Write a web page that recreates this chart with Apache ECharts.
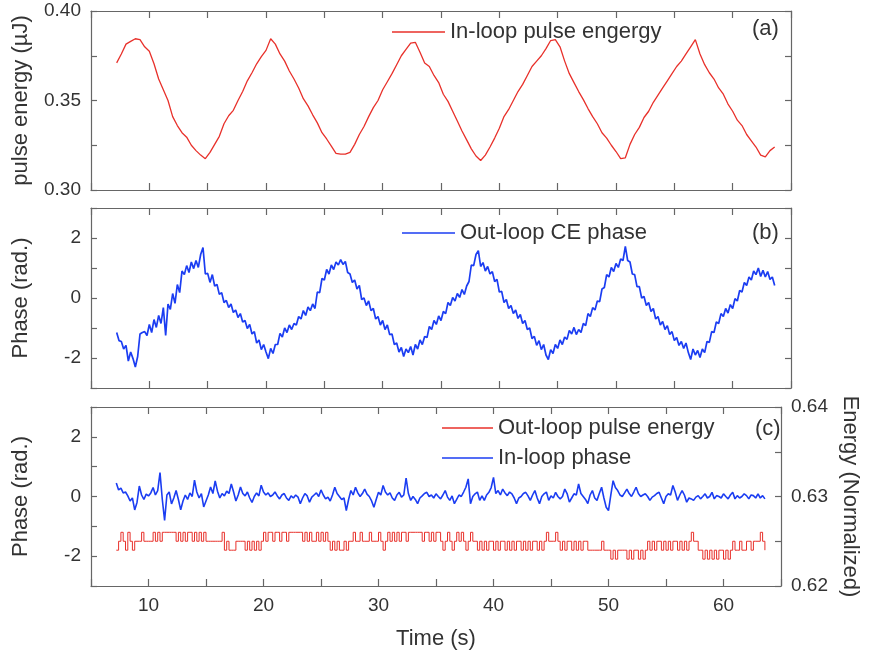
<!DOCTYPE html>
<html>
<head>
<meta charset="utf-8">
<script src="https://cdn.jsdelivr.net/npm/echarts@6/dist/echarts.min.js"></script>
<style>
html,body{margin:0;padding:0;background:#fff;}
#chart{width:869px;height:660px;}
</style>
</head>
<body>
<div id="chart"></div>
<script>
// ---- Data ----
// Panel (a): in-loop pulse energy, sampled every 0.4 s starting at 7.2 s
const startA = 7.2, stepA = 0.4;
const inLoopEnergy = [
0.3710,0.3760,0.3815,0.3830,0.3845,0.3840,0.3800,0.3775,0.3705,0.3620,0.3560,0.3500,0.3410,0.3360,0.3320,0.3295,0.3250,0.3220,0.3195,0.3175,
0.3210,0.3255,0.3300,0.3370,0.3415,0.3445,0.3500,0.3550,0.3610,0.3655,0.3705,0.3745,0.3780,0.3845,0.3815,0.3760,0.3720,0.3665,0.3620,0.3570,
0.3510,0.3470,0.3420,0.3375,0.3320,0.3285,0.3245,0.3205,0.3200,0.3200,0.3210,0.3255,0.3310,0.3355,0.3410,0.3460,0.3500,0.3560,0.3605,0.3650,
0.3700,0.3750,0.3785,0.3820,0.3825,0.3770,0.3710,0.3690,0.3640,0.3600,0.3535,0.3495,0.3440,0.3385,0.3330,0.3280,0.3230,0.3190,0.3165,0.3195,
0.3240,0.3290,0.3345,0.3410,0.3450,0.3500,0.3550,0.3590,0.3640,0.3690,0.3720,0.3750,0.3790,0.3835,0.3840,0.3800,0.3720,0.3650,0.3600,0.3550,
0.3505,0.3455,0.3410,0.3370,0.3320,0.3290,0.3250,0.3215,0.3175,0.3180,0.3255,0.3310,0.3350,0.3405,0.3440,0.3490,0.3530,0.3570,0.3610,0.3650,
0.3690,0.3720,0.3760,0.3800,0.3840,0.3760,0.3700,0.3655,0.3620,0.3570,0.3535,0.3480,0.3440,0.3390,0.3360,0.3310,0.3275,0.3240,0.3195,0.3185,
0.3220,0.3240
];

// Panels (b) and (c): sampled every 0.2 s starting at 7.2 s
const startBC = 7.2, stepBC = 0.2;
const outLoopPhase = [
-1.15,-1.42,-1.45,-1.70,-1.58,-2.10,-1.80,-2.02,-2.30,-1.95,
-1.20,-1.15,-1.12,-1.25,-0.88,-1.15,-0.72,-0.98,-0.58,-0.85,
-0.32,-1.25,-0.20,-0.38,0.15,-0.18,0.45,0.18,0.90,0.78,
1.08,0.85,1.20,0.98,1.25,1.02,1.45,1.68,0.80,0.82,
0.52,0.78,0.40,0.45,0.12,0.18,-0.15,-0.08,-0.32,-0.20,
-0.48,-0.40,-0.65,-0.52,-0.80,-0.75,-1.02,-0.88,-1.20,-1.12,
-1.50,-1.40,-1.72,-1.55,-1.80,-2.02,-1.68,-1.85,-1.55,-1.55,
-1.18,-1.30,-1.00,-1.15,-0.90,-1.05,-0.85,-0.90,-0.62,-0.70,
-0.42,-0.58,-0.30,-0.42,-0.20,-0.35,0.20,0.18,0.65,0.60,
0.95,0.80,1.10,0.95,1.20,1.10,1.28,1.12,1.22,0.85,
0.80,0.52,0.60,0.30,0.42,-0.05,0.00,-0.25,-0.10,-0.42,
-0.35,-0.70,-0.62,-0.90,-0.75,-1.05,-0.90,-1.22,-1.20,-1.55,
-1.50,-1.80,-1.65,-1.95,-1.70,-1.82,-1.62,-1.90,-1.55,-1.70,
-1.40,-1.55,-1.28,-1.32,-0.95,-1.05,-0.75,-0.88,-0.60,-0.75,
-0.45,-0.52,-0.15,-0.25,0.02,-0.10,0.15,0.02,0.28,0.12,
0.40,0.55,1.10,1.08,1.45,1.58,1.05,1.18,0.90,1.05,
0.80,0.88,0.55,0.62,0.20,0.22,-0.15,-0.05,-0.35,-0.25,
-0.52,-0.40,-0.68,-0.55,-0.85,-0.75,-1.05,-1.00,-1.35,-1.28,
-1.58,-1.42,-1.72,-1.55,-1.90,-2.05,-1.72,-1.85,-1.55,-1.68,
-1.40,-1.55,-1.30,-1.38,-1.08,-1.20,-0.98,-1.22,-1.05,-1.15,
-0.85,-0.92,-0.52,-0.62,-0.32,-0.40,-0.10,-0.12,0.30,0.35,
0.78,0.70,1.02,0.88,1.15,1.02,1.30,1.25,1.72,1.25,
1.20,0.80,0.78,0.38,0.38,0.00,0.05,-0.25,-0.15,-0.45,
-0.35,-0.70,-0.62,-0.90,-0.78,-1.05,-0.92,-1.22,-1.12,-1.42,
-1.32,-1.58,-1.45,-1.68,-1.50,-1.82,-2.05,-1.70,-1.90,-1.75,
-1.98,-1.70,-1.82,-1.45,-1.48,-1.12,-1.15,-0.80,-0.85,-0.52,
-0.62,-0.35,-0.50,-0.22,-0.35,-0.02,-0.10,0.25,0.20,0.52,
0.42,0.70,0.60,0.90,0.78,1.00,0.72,0.92,0.70,0.88,
0.62,0.70,0.42
];

const inLoopPhase = [
0.45,0.22,0.28,0.12,0.15,0.02,-0.15,-0.05,-0.45,-0.20,
0.35,0.05,-0.10,0.08,0.02,0.12,0.30,0.05,0.20,0.80,
-0.10,-0.80,0.05,0.15,-0.25,-0.05,0.20,-0.10,-0.45,-0.15,
0.05,-0.10,0.12,0.00,0.55,0.15,-0.05,0.10,-0.35,-0.15,
0.05,0.32,0.10,0.52,0.18,-0.05,0.10,0.02,0.18,0.10,
0.42,0.15,-0.15,0.05,0.32,0.10,0.02,0.15,-0.05,-0.20,
0.00,0.12,0.02,0.38,0.15,0.05,0.12,0.00,0.05,0.15,
0.02,-0.08,0.05,0.10,-0.05,-0.13,0.02,-0.05,0.05,-0.02,
-0.24,-0.05,0.10,0.02,-0.19,-0.02,0.05,0.12,0.00,0.22,
0.05,-0.08,-0.02,-0.15,0.05,0.31,0.10,0.00,-0.10,-0.05,
-0.47,-0.10,0.20,0.05,0.31,0.12,0.00,0.10,0.25,0.08,
0.00,-0.15,-0.36,-0.10,0.14,0.05,0.37,0.15,0.05,0.12,
-0.05,-0.13,0.05,0.14,-0.02,0.05,0.62,0.10,-0.13,0.00,
-0.10,-0.24,-0.05,0.02,0.10,0.14,0.00,0.05,-0.05,0.09,
0.00,-0.08,0.05,0.20,-0.02,-0.13,0.02,-0.24,-0.10,0.05,
0.00,0.15,0.31,0.59,-0.24,0.00,0.09,0.15,-0.13,0.02,
-0.13,0.05,0.14,0.30,0.64,0.10,0.20,0.05,0.25,0.12,
0.03,0.15,0.09,-0.05,-0.24,-0.05,0.00,0.10,0.14,0.02,
-0.13,0.05,0.20,-0.05,-0.24,0.00,0.09,0.15,-0.13,0.02,
-0.05,0.14,0.00,-0.08,0.00,0.25,0.10,-0.19,-0.05,0.09,
0.05,0.42,0.10,0.00,-0.10,-0.24,0.05,0.20,-0.05,-0.13,
0.10,0.31,-0.05,-0.36,-0.47,0.05,0.53,0.30,0.20,0.05,
0.00,0.12,0.25,0.10,0.00,0.15,0.31,0.10,0.00,0.05,
0.09,0.00,-0.13,-0.02,0.03,0.10,0.14,-0.05,-0.24,0.00,
0.09,0.05,0.37,0.15,-0.13,0.05,0.20,0.05,-0.19,-0.05,
-0.08,-0.13,-0.02,0.03,-0.08,0.00,0.09,-0.05,0.00,0.14,
-0.08,0.03,0.00,-0.05,0.09,0.00,-0.08,0.05,0.14,-0.08,
0.03,-0.05,0.00,0.09,0.03,-0.08,0.05,0.03,-0.05,0.09,
-0.05,0.03,-0.08
];

const outLoopEnergy = [
0.624,0.625,0.626,0.625,0.624,0.626,0.625,0.624,0.625,0.625,
0.625,0.626,0.625,0.625,0.625,0.625,0.626,0.625,0.626,0.625,
0.626,0.626,0.626,0.626,0.626,0.626,0.625,0.626,0.625,0.626,
0.625,0.626,0.626,0.625,0.626,0.625,0.626,0.625,0.626,0.625,
0.625,0.625,0.625,0.625,0.625,0.625,0.626,0.624,0.625,0.624,
0.624,0.624,0.625,0.625,0.625,0.625,0.624,0.625,0.624,0.625,
0.624,0.625,0.624,0.625,0.626,0.625,0.626,0.626,0.625,0.626,
0.626,0.625,0.626,0.626,0.625,0.626,0.626,0.626,0.626,0.626,
0.626,0.625,0.626,0.625,0.626,0.625,0.625,0.626,0.625,0.626,
0.625,0.626,0.625,0.624,0.625,0.624,0.625,0.624,0.624,0.625,
0.624,0.625,0.625,0.626,0.625,0.625,0.626,0.625,0.625,0.625,
0.626,0.625,0.625,0.625,0.626,0.625,0.624,0.625,0.626,0.625,
0.626,0.625,0.626,0.625,0.626,0.626,0.625,0.626,0.626,0.626,
0.626,0.626,0.626,0.625,0.626,0.626,0.625,0.626,0.625,0.626,
0.626,0.625,0.624,0.625,0.626,0.625,0.624,0.625,0.626,0.625,
0.626,0.625,0.624,0.625,0.626,0.625,0.625,0.624,0.625,0.624,
0.625,0.624,0.625,0.625,0.624,0.625,0.624,0.625,0.625,0.624,
0.625,0.624,0.625,0.624,0.625,0.625,0.624,0.625,0.624,0.625,
0.624,0.625,0.625,0.624,0.625,0.624,0.625,0.626,0.625,0.625,
0.625,0.626,0.625,0.624,0.625,0.624,0.625,0.625,0.624,0.625,
0.624,0.625,0.624,0.625,0.625,0.624,0.624,0.624,0.624,0.624,
0.624,0.625,0.624,0.624,0.624,0.623,0.624,0.623,0.624,0.624,
0.624,0.624,0.623,0.624,0.623,0.624,0.624,0.623,0.624,0.623,
0.624,0.625,0.624,0.625,0.624,0.625,0.625,0.624,0.625,0.624,
0.625,0.624,0.625,0.625,0.624,0.625,0.624,0.625,0.624,0.625,
0.626,0.625,0.625,0.624,0.624,0.623,0.624,0.623,0.624,0.623,
0.624,0.623,0.624,0.624,0.623,0.624,0.623,0.624,0.625,0.624,
0.624,0.625,0.624,0.624,0.625,0.625,0.624,0.625,0.625,0.625,
0.626,0.625,0.624
];

// Tick labels that are shown (the other ticks are unlabeled minor ticks)
const xTickLabels = [10, 20, 30, 40, 50, 60];
const energyTickLabels = [0.30, 0.35, 0.40];
const phaseTickLabels = [-2, 0, 2];
const normTickLabels = [0.62, 0.63, 0.64];

// ---- Helpers ----
function pairs(start, step, values) {
  return values.map((v, i) => [+(start + i * step).toFixed(2), v]);
}
function inList(v, list) {
  return list.some(l => Math.abs(l - v) < 1e-7);
}

const RED = '#e8302a';
const BLUE = '#1b3df2';
const AXIS = '#666';
const TXT = '#333';
const FONT = '"Liberation Sans", Arial, sans-serif';

const chart = echarts.init(document.getElementById('chart'), null, {renderer: 'canvas'});

const grids = [
  {left: 91, top: 11, width: 700, height: 179},
  {left: 91, top: 208, width: 700, height: 180},
  {left: 91, top: 407, width: 700, height: 179}
];

function xAxisFor(gi, pos, showLabels, name) {
  return {
    type: 'value', gridIndex: gi, position: pos, min: 5, max: 65, interval: 5,
    axisLine: {show: true, onZero: false, lineStyle: {color: AXIS, width: 1.2}},
    axisTick: {show: true, inside: true, length: 7, lineStyle: {color: AXIS, width: 1.2}},
    splitLine: {show: false},
    axisLabel: {
      show: showLabels, margin: 10, fontSize: 19, color: TXT, fontFamily: FONT,
      formatter: v => (inList(v, xTickLabels) ? String(Math.round(v)) : '')
    },
    name: name || '', nameLocation: 'middle', nameGap: 42,
    nameTextStyle: {fontSize: 22, color: TXT, fontFamily: FONT}
  };
}

function yAxisFor(gi, pos, min, max, interval, labels, digits, name, nameRotate, nameGap) {
  return {
    type: 'value', gridIndex: gi, position: pos, min: min, max: max, interval: interval,
    axisLine: {show: true, onZero: false, lineStyle: {color: AXIS, width: 1.2}},
    axisTick: {show: true, inside: true, length: 6, lineStyle: {color: AXIS, width: 1.2}},
    splitLine: {show: false},
    axisLabel: {
      show: !!labels, margin: 10, fontSize: 19, color: TXT, fontFamily: FONT,
      showMinLabel: true, showMaxLabel: true,
      formatter: v => (labels && inList(v, labels) ? (digits > 0 ? v.toFixed(digits) : String(Math.round(v))) : '')
    },
    name: name || '', nameLocation: 'middle', nameGap: nameGap || 0, nameRotate: nameRotate,
    nameTextStyle: {fontSize: 22, color: TXT, fontFamily: FONT}
  };
}

const option = {
  backgroundColor: '#fff',
  animation: false,
  textStyle: {fontFamily: FONT},
  grid: grids,
  xAxis: [
    xAxisFor(0, 'bottom', false), xAxisFor(0, 'top', false),
    xAxisFor(1, 'bottom', false), xAxisFor(1, 'top', false),
    xAxisFor(2, 'bottom', true, 'Time (s)'), xAxisFor(2, 'top', false)
  ],
  yAxis: [
    yAxisFor(0, 'left', 0.3, 0.4, 0.025, energyTickLabels, 2, 'pulse energy (\u00b5J)', 90, 59),
    yAxisFor(0, 'right', 0.3, 0.4, 0.025, null, 2),
    yAxisFor(1, 'left', -3, 3, 1, phaseTickLabels, 0, 'Phase (rad.)', 90, 59),
    yAxisFor(1, 'right', -3, 3, 1, null, 0),
    yAxisFor(2, 'left', -3, 3, 1, phaseTickLabels, 0, 'Phase (rad.)', 90, 59),
    yAxisFor(2, 'right', 0.62, 0.64, 0.005, normTickLabels, 2, 'Energy (Normalized)', -90, 58)
  ],
  legend: [
    {left: 392, top: 21, padding: 0, icon: 'rect', itemWidth: 53, itemHeight: 1.5,
     textStyle: {fontSize: 22, color: TXT, fontFamily: FONT, lineHeight: 22},
     data: ['In-loop pulse engergy']},
    {left: 402, top: 222, padding: 0, icon: 'rect', itemWidth: 53, itemHeight: 1.5,
     textStyle: {fontSize: 22, color: TXT, fontFamily: FONT, lineHeight: 22},
     data: ['Out-loop CE phase']},
    {left: 442, top: 417, padding: 0, orient: 'vertical', itemGap: 8, icon: 'rect', itemWidth: 51, itemHeight: 1.5,
     textStyle: {fontSize: 22, color: TXT, fontFamily: FONT, lineHeight: 22},
     data: ['Out-loop pulse energy', 'In-loop phase']}
  ],
  graphic: [
    {type: 'text', x: 752, y: 29, style: {text: '(a)', font: '22px ' + FONT, fill: TXT, verticalAlign: 'middle'}},
    {type: 'text', x: 752, y: 233, style: {text: '(b)', font: '22px ' + FONT, fill: TXT, verticalAlign: 'middle'}},
    {type: 'text', x: 755, y: 429, style: {text: '(c)', font: '22px ' + FONT, fill: TXT, verticalAlign: 'middle'}}
  ],
  series: [
    {name: 'In-loop pulse engergy', type: 'line', xAxisIndex: 0, yAxisIndex: 0, color: RED,
     showSymbol: false, symbol: 'none', lineStyle: {color: RED, width: 1.3},
     data: pairs(startA, stepA, inLoopEnergy)},
    {name: 'Out-loop CE phase', type: 'line', xAxisIndex: 2, yAxisIndex: 2, color: BLUE,
     showSymbol: false, symbol: 'none', lineStyle: {color: BLUE, width: 1.7},
     data: pairs(startBC, stepBC, outLoopPhase)},
    {name: 'Out-loop pulse energy', type: 'line', xAxisIndex: 4, yAxisIndex: 5, color: RED,
     showSymbol: false, symbol: 'none', step: 'end', lineStyle: {color: RED, width: 1},
     data: pairs(startBC, stepBC, outLoopEnergy)},
    {name: 'In-loop phase', type: 'line', xAxisIndex: 4, yAxisIndex: 4, color: BLUE,
     showSymbol: false, symbol: 'none', lineStyle: {color: BLUE, width: 1.6},
     data: pairs(startBC, stepBC, inLoopPhase)}
  ]
};

chart.setOption(option);
</script>
</body>
</html>
